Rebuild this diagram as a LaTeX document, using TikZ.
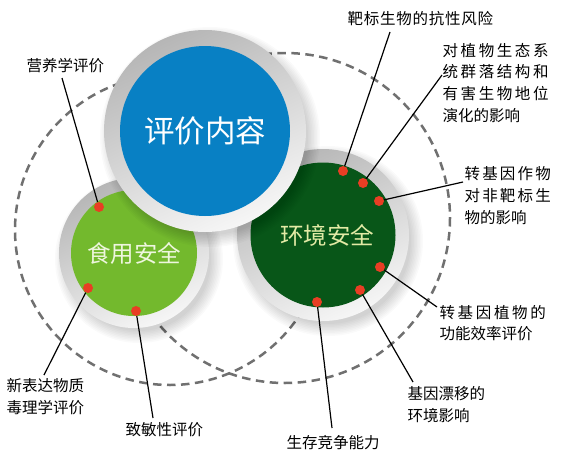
\documentclass[tikz,border=0pt]{standalone}
\usepackage{fontspec}
\newfontfamily\cjk{Noto Sans CJK SC}
\definecolor{bluedisk}{RGB}{8,128,196}
\definecolor{greendisk}{RGB}{115,185,45}
\definecolor{darkdisk}{RGB}{8,86,24}
\definecolor{dotred}{RGB}{232,62,36}
\definecolor{dashgray}{RGB}{112,112,112}
\definecolor{ringtop}{RGB}{182,182,182}
\definecolor{ringbot}{RGB}{246,246,246}
\definecolor{paleyellow}{RGB}{226,234,165}
\definecolor{palegreen}{RGB}{238,246,222}
\newcommand\jl[2]{\makebox[#1][s]{#2}}
\newcommand\discshadow[3]{%
  \foreach \k in {0,...,8}{\fill[black,opacity=0.02] (#1+5,#2+6) circle[radius=#3+9-\k*1.5];}}
\begin{document}
\begin{tikzpicture}[x=1pt,y=-1pt,
  dashline/.style={draw=dashgray,line width=2.5pt,dash pattern=on 8.5pt off 5.5pt},
  ring/.style={top color=ringtop,bottom color=ringbot,shading angle=25},
  disk/.style={circle,inner sep=0pt},
  dot/.style={circle,fill=dotred,minimum size=10pt,inner sep=0pt},
  leader/.style={draw=black,line width=1.2pt},
  lbl/.style={font=\cjk\fontsize{15.5}{21.7}\selectfont,inner sep=0pt,align=left,anchor=north west,text=black}]
\useasboundingbox (0,0) rectangle (567,463);
\fill[white] (0,0) rectangle (567,463);
% dashed circles
\draw[dashline] (170,230) circle[radius=155];
\draw[dashline] (285,218) circle[radius=165];
% food safety disk
\discshadow{134}{253}{75}
\shade[ring] (134,253) circle[radius=75];
\node[disk,fill=greendisk,minimum size=126pt,text=palegreen,font=\cjk\fontsize{23.5}{24}\selectfont] (food) at (134,253) {食用安全};
% environment safety disk
\discshadow{323}{235}{86}
\shade[ring] (323,235) circle[radius=86];
\node[disk,fill=darkdisk,minimum size=145pt,text=paleyellow,font=\cjk\fontsize{23.5}{24}\selectfont] (env) at (323,235) {\hspace{8pt}环境安全};
% content disk
\discshadow{205}{131}{101}
\shade[ring] (205,131) circle[radius=101];
\node[disk,fill=bluedisk,minimum size=170pt,text=white,font=\cjk\fontsize{30.5}{31}\selectfont] (content) at (205,131) {评价内容};
% dots
\node[dot] (d1) at (99,207) {};
\node[dot] (d2) at (88,288) {};
\node[dot] (d3) at (136,311) {};
\node[dot] (d4) at (343,171) {};
\node[dot] (d5) at (363,183) {};
\node[dot] (d6) at (379,201) {};
\node[dot] (d7) at (380,267) {};
\node[dot] (d8) at (360,290) {};
\node[dot] (d9) at (317,302) {};
% leader end points
\coordinate (e1) at (62,78);
\coordinate (e2) at (44,375);
\coordinate (e3) at (153,418);
\coordinate (e4) at (390,32);
\coordinate (e5) at (442,75);
\coordinate (e6) at (463,182);
\coordinate (e7) at (437,307);
\coordinate (e8) at (413,382);
\coordinate (e9) at (332,428);
\foreach \i in {1,...,9}{\draw[leader] (e\i) -- (d\i);}
% labels
\node[lbl] (t1) at (26.4,58) {营养学评价};
\node[lbl,font=\cjk\fontsize{15.5}{22}\selectfont] (t2) at (6.4,378) {新表达物质\\毒理学评价};
\node[lbl] (t3) at (125.4,422) {致敏性评价};
\node[lbl] (t4) at (347.4,11) {\jl{145.5pt}{靶\hfil 标\hfil 生\hfil 物\hfil 的\hfil 抗\hfil 性\hfil 风\hfil 险}};
\node[lbl] (t5) at (442.4,43) {\jl{106pt}{对\hfil 植\hfil 物\hfil 生\hfil 态\hfil 系}\\\jl{106pt}{统\hfil 群\hfil 落\hfil 结\hfil 构\hfil 和}\\\jl{106pt}{有\hfil 害\hfil 生\hfil 物\hfil 地\hfil 位}\\演化的影响};
\node[lbl,font=\cjk\fontsize{15.5}{22}\selectfont] (t6) at (464.4,166) {\jl{86.2pt}{转\hfil 基\hfil 因\hfil 作\hfil 物}\\\jl{86.2pt}{对\hfil 非\hfil 靶\hfil 标\hfil 生}\\物的影响};
\node[lbl,font=\cjk\fontsize{15.5}{21}\selectfont] (t7) at (439.4,305) {\jl{106.2pt}{转\hfil 基\hfil 因\hfil 植\hfil 物\hfil 的}\\功能效率评价};
\node[lbl,font=\cjk\fontsize{15.5}{22}\selectfont] (t8) at (407.4,386) {基因漂移的\\环境影响};
\node[lbl] (t9) at (286.4,435) {生存竞争能力};
\end{tikzpicture}
\end{document}
